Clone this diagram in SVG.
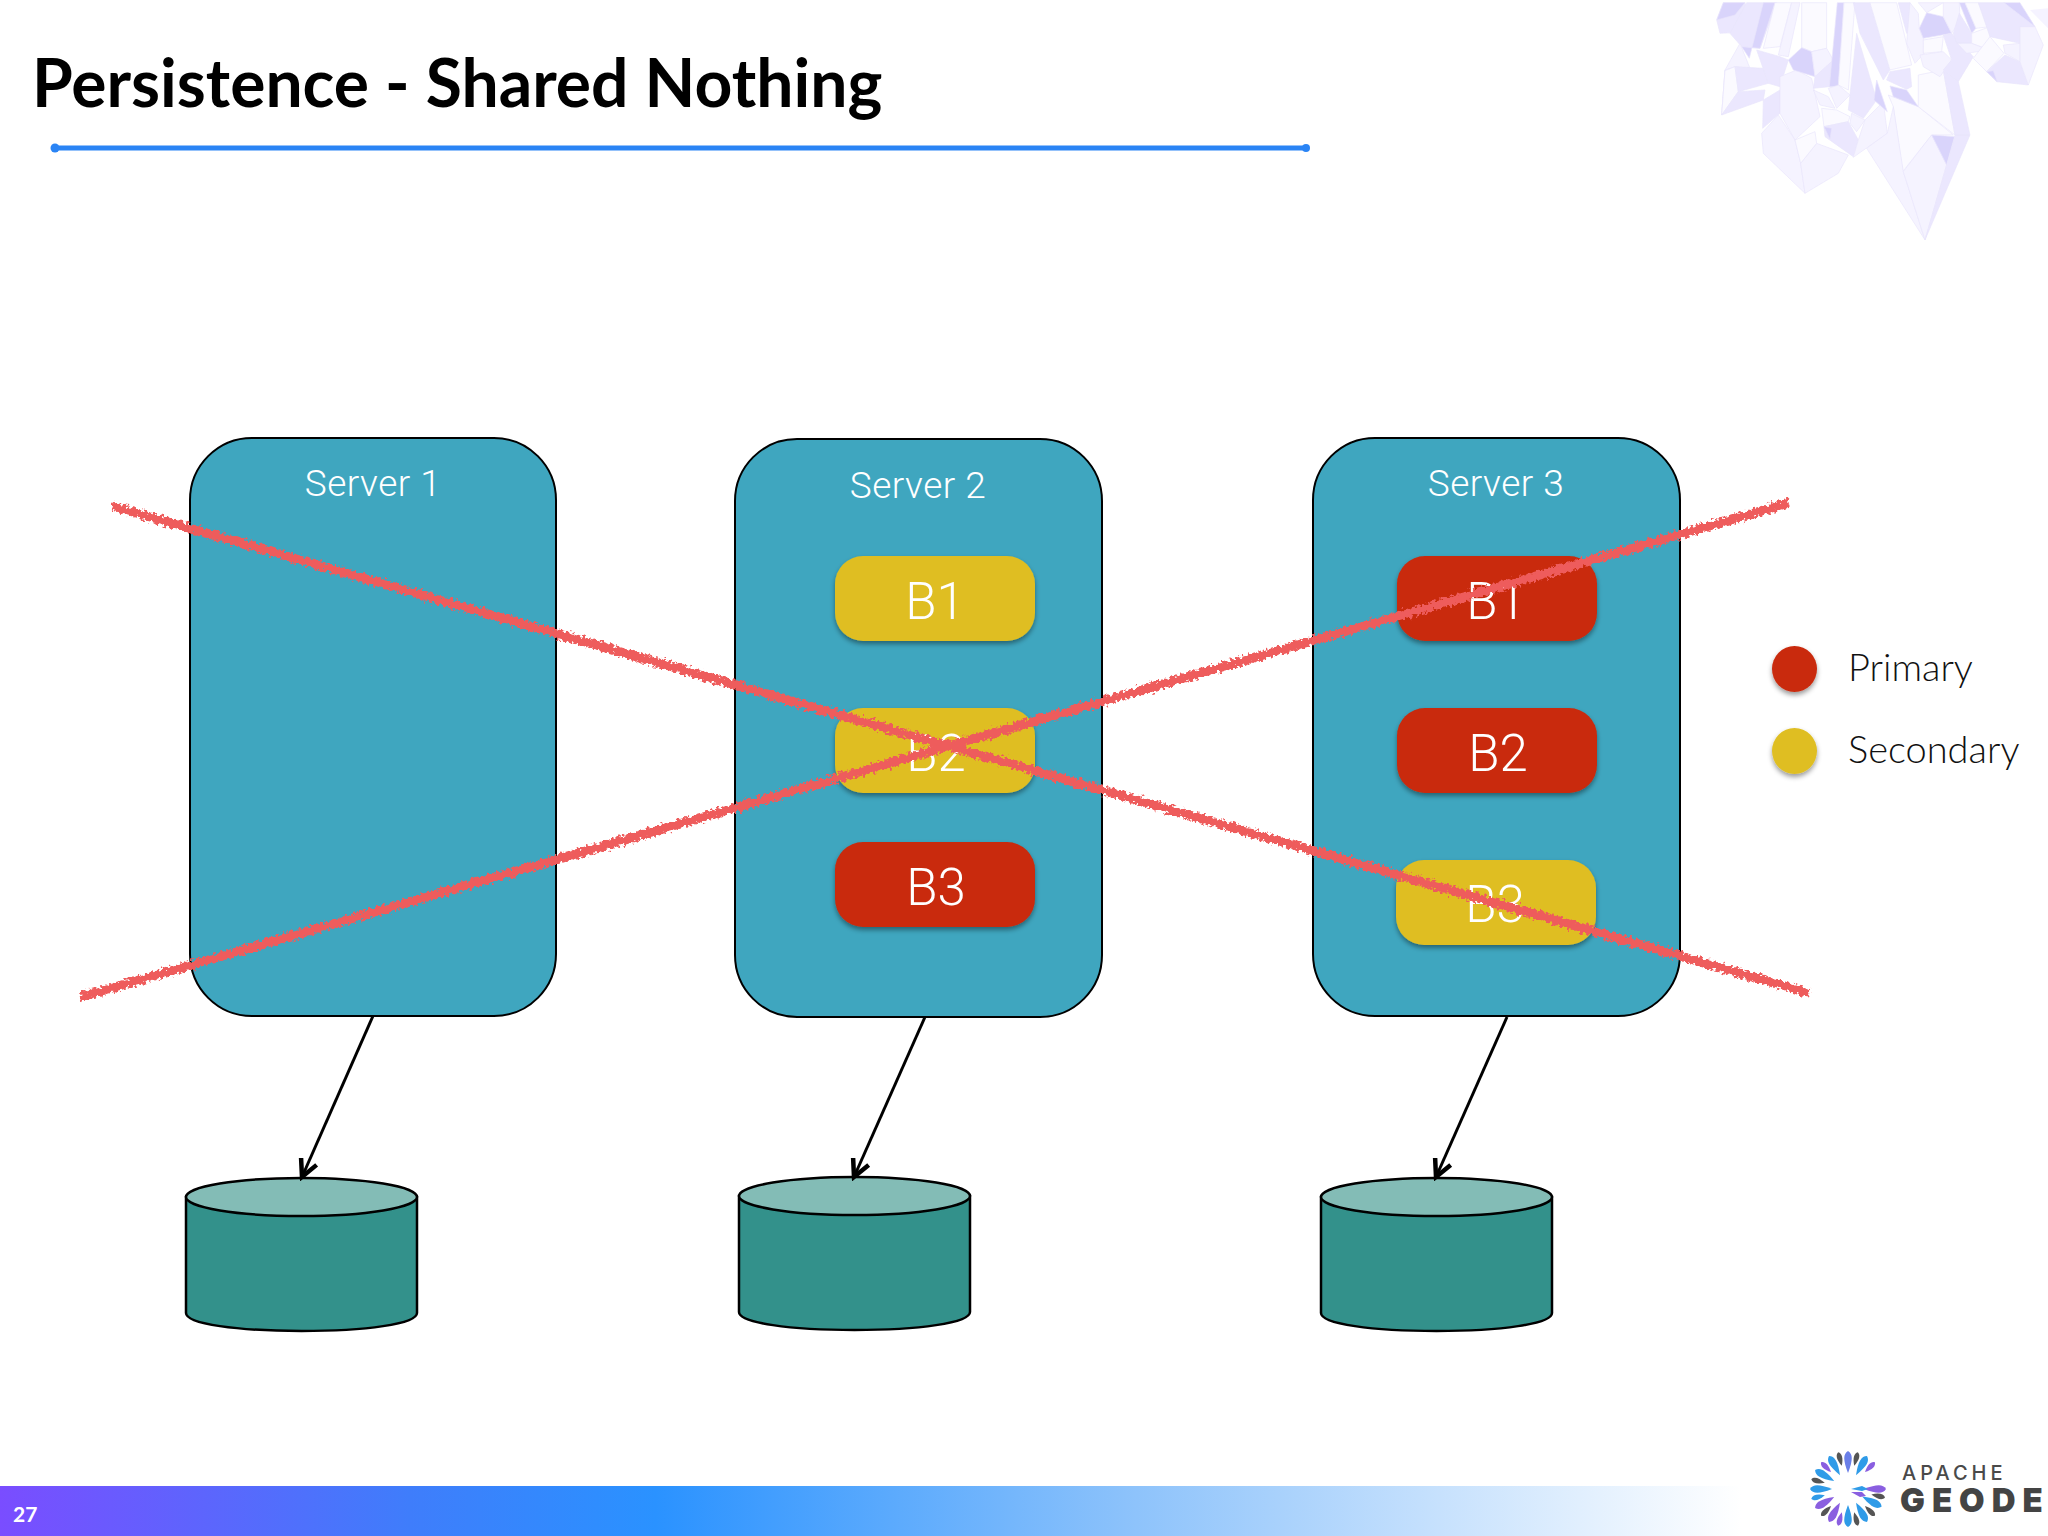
<svg xmlns="http://www.w3.org/2000/svg" width="2048" height="1536" viewBox="0 0 2048 1536">
<style>
.server{fill:#3fa6bf;stroke:#000;stroke-width:2}
.sl{font:300 37px Roboto,"Liberation Sans",sans-serif;letter-spacing:0.500px;fill:#fff;text-anchor:middle}
.bl{font:300 51px Roboto,"Liberation Sans",sans-serif;fill:#fff;text-anchor:middle}
.red{fill:#c9290a;filter:url(#sh)}
.yel{fill:#dfbe22;filter:url(#sh)}
.cb{fill:#33918b;stroke:#000;stroke-width:2.5}
.ct{fill:#83bcb6;stroke:#000;stroke-width:2.5}
.arrow{stroke:#000;stroke-width:3;fill:none;marker-end:url(#ah)}
.strike{stroke:#ee5c5c;stroke-width:9;fill:none;stroke-linecap:butt}
.leg{font:300 38px Lato,"Noto Sans",sans-serif;fill:#111}
.d{fill:#cfc8fb}.m{fill:#e6e1fe}.l{fill:#f3f0ff}.w{fill:#faf9ff}
#crystal polygon{stroke:#e2defb;stroke-width:2}
</style>
<defs>
<filter id="sh" x="-20%" y="-20%" width="140%" height="150%"><feDropShadow dx="0" dy="3" stdDeviation="2.500" flood-color="#000" flood-opacity="0.4"/></filter>
<filter id="rough" filterUnits="userSpaceOnUse" x="0" y="400" width="2048" height="700"><feTurbulence type="fractalNoise" baseFrequency="0.3" numOctaves="2" seed="4"/><feDisplacementMap in="SourceGraphic" scale="9" xChannelSelector="R" yChannelSelector="G"/></filter>
<filter id="blur"><feGaussianBlur stdDeviation="2.500"/></filter>
<marker id="ah" markerUnits="userSpaceOnUse" markerWidth="24" markerHeight="24" refX="20" refY="12" orient="auto"><path d="M3,3.500 L20,12 L3,20.500" fill="none" stroke="#000" stroke-width="4.500"/></marker>
<linearGradient id="bar" x1="0" x2="1" y1="0" y2="0"><stop offset="0" stop-color="#7a4dff"/><stop offset="0.2" stop-color="#3f7dfb"/><stop offset="0.32" stop-color="#2a92ff"/><stop offset="0.55" stop-color="#8cc2fb"/><stop offset="0.85" stop-color="#ffffff"/></linearGradient>
<path id="pl" d="M0,-38 C5,-35 5,-29 0,-16 C-5,-29 -5,-35 0,-38Z"/>
<path id="ps" d="M0,-38 C3.500,-36 3.500,-31 0,-24 C-3.500,-31 -3.500,-36 0,-38Z"/>
</defs>
<rect width="2048" height="1536" fill="#fff"/>

<g id="crystal" transform="translate(1680,0) scale(0.3333)" opacity="0.78">
<polygon class="m" points="130,8 195,8 215,95 120,100 110,60"/>
<polygon class="d" points="130,8 195,8 165,45 110,60"/>
<polygon class="m" points="200,8 290,8 240,145 185,140 150,100"/>
<polygon class="d" points="250,8 285,8 240,145 185,140 208,175"/>
<polygon class="w" points="285,8 335,8 300,140 250,145"/>
<polygon class="l" points="180,130 210,205 165,200 135,210 125,345 135,210"/>
<polygon class="w" points="135,212 165,200 175,275 125,345"/>
<polygon class="l" points="335,8 360,8 325,170 295,165"/>
<polygon class="m" points="165,200 250,205 265,250 175,275"/>
<polygon class="m" points="125,345 175,275 255,270 250,300"/>
<polygon class="m" points="230,150 300,170 325,180 300,260 265,250"/>
<polygon class="m" points="250,300 300,270 300,340 248,385"/>
<polygon class="l" points="300,230 350,210 395,235 420,350 345,420 300,340"/>
<polygon class="l" points="245,400 295,345 345,420 362,490 375,580 250,460"/>
<polygon class="l" points="362,490 410,430 505,465 475,520 375,580"/>
<polygon class="w" points="345,420 405,395 410,430 362,490"/>
<polygon class="w" points="365,8 440,8 440,145 395,155 365,143"/>
<polygon class="d" points="325,180 365,143 395,155 405,230 340,210"/>
<polygon class="l" points="395,155 440,145 460,180 405,230"/>
<polygon class="m" points="405,230 460,180 448,260 400,265"/>
<polygon class="d" points="472,8 492,8 475,260 448,260"/>
<polygon class="w" points="492,8 525,8 505,270 475,255"/>
<polygon class="l" points="445,265 475,255 510,285 470,325"/>
<polygon class="l" points="400,270 445,290 465,325 420,315"/>
<polygon class="w" points="425,325 470,330 510,350 505,365 432,380"/>
<polygon class="m" points="432,380 505,365 535,420 520,470 435,410"/>
<polygon class="d" points="432,380 455,385 450,418"/>
<polygon class="m" points="530,100 590,300 550,355 505,330"/>
<polygon class="l" points="515,340 555,360 530,395 510,370"/>
<polygon class="l" points="555,360 610,305 622,400 520,472 535,420"/>
<polygon class="m" points="520,8 570,8 630,210 610,240 540,100"/>
<polygon class="w" points="570,8 650,8 695,195 630,210"/>
<polygon class="m" points="620,240 630,215 690,205 695,260 680,268"/>
<polygon class="d" points="590,240 622,335 582,300"/>
<polygon class="w" points="625,285 715,320 820,405 755,405 668,515 640,320"/>
<polygon class="w" points="715,225 790,210 825,405 715,320"/>
<polygon class="d" points="630,258 680,270 715,320 640,290"/>
<polygon class="l" points="560,445 622,400 640,320 670,515 735,720"/>
<polygon class="l" points="670,515 755,405 800,495 735,720"/>
<polygon class="d" points="755,405 825,410 800,495"/>
<polygon class="m" points="800,495 825,405 870,405 735,720"/>
<polygon class="m" points="790,210 835,245 870,405 825,405"/>
<polygon class="m" points="655,8 690,8 700,95 680,100"/>
<polygon class="l" points="690,8 715,40 718,85 730,115 732,160 705,190 680,130"/>
<polygon class="l" points="715,8 790,8 740,38"/>
<polygon class="d" points="740,38 790,50 815,100 730,115 718,85"/>
<polygon class="l" points="790,8 838,8 840,60 815,100 790,50"/>
<polygon class="w" points="730,120 790,110 785,155 730,160"/>
<polygon class="l" points="720,165 790,155 815,180 780,230 730,200"/>
<polygon class="m" points="790,105 815,100 880,170 835,245 790,210 815,180"/>
<polygon class="d" points="838,8 855,8 888,85 875,100"/>
<polygon class="m" points="820,100 838,40 875,100 875,130 830,130"/>
<polygon class="w" points="855,8 895,8 930,80 888,85"/>
<polygon class="w" points="875,100 930,80 930,150 875,130"/>
<polygon class="l" points="832,130 875,130 925,150 860,160"/>
<polygon class="w" points="880,175 930,110 972,160 920,215"/>
<polygon class="m" points="920,215 975,165 1020,185 1045,255 950,245"/>
<polygon class="d" points="920,215 940,212 952,245"/>
<polygon class="l" points="970,135 1020,130 1020,185 975,160"/>
<polygon class="m" points="895,8 972,8 1065,80 1020,130 930,110"/>
<polygon class="d" points="972,8 1020,8 1065,80"/>
<polygon class="l" points="1020,80 1065,80 1090,135 1045,255 1020,185"/>
<polygon class="l" points="1050,30 1104,25 1104,85" style="stroke:none"/>
</g>

<text id="title" x="32" y="107" font-family="Lato,'Noto Sans',sans-serif" font-weight="700" font-size="66" fill="#000">Persistence - Shared Nothing</text>
<g id="underline">
<path d="M53,153 H1307" stroke="#c9c4ff" stroke-width="5" opacity="0.45" filter="url(#blur)"/>
<path d="M54,148 H1306" stroke="#2a84f5" stroke-width="5" stroke-linecap="round"/>
<circle cx="55" cy="148" r="4.500" fill="#2a84f5"/>
<circle cx="1306" cy="148" r="4" fill="#2a84f5"/>
</g>

<g id="server1"><rect class="server" x="190" y="438" width="366" height="578" rx="62"/><text class="sl" x="373" y="496">Server 1</text></g>
<g id="server2"><rect class="server" x="735" y="439" width="367" height="578" rx="62"/><text class="sl" x="918" y="498">Server 2</text></g>
<g id="server3"><rect class="server" x="1313" y="438" width="367" height="578" rx="62"/><text class="sl" x="1496" y="496">Server 3</text></g>

<g id="s2b1"><rect class="yel" x="835" y="556" width="200" height="85" rx="28"/><text class="bl" x="935" y="619">B1</text></g>
<g id="s2b2"><rect class="yel" x="835" y="708" width="200" height="85" rx="28"/><text class="bl" x="936" y="771">B2</text></g>
<g id="s2b3"><rect class="red" x="835" y="842" width="200" height="85" rx="28"/><text class="bl" x="936" y="905">B3</text></g>
<g id="s3b1"><rect class="red" x="1397" y="556" width="200" height="85" rx="28"/><text class="bl" x="1496" y="619">B1</text></g>
<g id="s3b2"><rect class="red" x="1397" y="708" width="200" height="85" rx="28"/><text class="bl" x="1498" y="771">B2</text></g>
<g id="s3b3"><rect class="yel" x="1396" y="860" width="200" height="85" rx="28"/><text class="bl" x="1495" y="922">B3</text></g>

<g id="disk1"><path class="cb" d="M186,1197 V1313 C186,1324 238,1331 301.500,1331 C365,1331 417,1324 417,1313 V1197Z"/><ellipse class="ct" cx="301.500" cy="1197" rx="115.500" ry="19"/></g>
<g id="disk2"><path class="cb" d="M739,1196 V1312 C739,1323 791,1330 854.500,1330 C918,1330 970,1323 970,1312 V1196Z"/><ellipse class="ct" cx="854.500" cy="1196" rx="115.500" ry="19"/></g>
<g id="disk3"><path class="cb" d="M1321,1197 V1313 C1321,1324 1373,1331 1436.500,1331 C1500,1331 1552,1324 1552,1313 V1197Z"/><ellipse class="ct" cx="1436.500" cy="1197" rx="115.500" ry="19"/></g>

<g id="connectors">
<path class="arrow" d="M373,1016 L302,1177"/>
<path class="arrow" d="M925,1017 L854,1177"/>
<path class="arrow" d="M1507,1017 L1436,1177"/>
</g>

<g id="strikes" filter="url(#rough)">
<path class="strike" d="M112,506 L1809,993"/>
<path class="strike" d="M81,997 L1789,503"/>
</g>

<g id="legend">
<ellipse class="red" cx="1794.500" cy="669" rx="22.500" ry="23"/>
<text class="leg" x="1848" y="681">Primary</text>
<ellipse class="yel" cx="1794.500" cy="751" rx="22.500" ry="23"/>
<text class="leg" x="1848" y="763">Secondary</text>
</g>

<rect id="footer" x="0" y="1486" width="2048" height="50" fill="url(#bar)"/>
<text id="page" x="13" y="1522" font-family="Lato,'Liberation Sans',sans-serif" font-weight="700" font-size="21" fill="#fff">27</text>

<g id="logo" transform="translate(1848,1489)">
<use href="#pl" fill="#6a7fe8"/>
<use href="#ps" fill="#555" transform="rotate(15)"/>
<use href="#pl" fill="#2f9be8" transform="rotate(30)"/>
<use href="#ps" fill="#8a5fe0" transform="rotate(45)"/>
<use href="#pl" fill="#8a5fe0" transform="rotate(90)"/>
<use href="#ps" fill="#555" transform="rotate(103)"/>
<use href="#pl" fill="#2f9be8" transform="rotate(118)"/>
<use href="#ps" fill="#555" transform="rotate(135)"/>
<use href="#pl" fill="#2f9be8" transform="rotate(150)"/>
<use href="#ps" fill="#555" transform="rotate(165)"/>
<use href="#pl" fill="#2f9be8" transform="rotate(180)"/>
<use href="#ps" fill="#8a5fe0" transform="rotate(195)"/>
<use href="#pl" fill="#8a5fe0" transform="rotate(210)"/>
<use href="#ps" fill="#555" transform="rotate(225)"/>
<use href="#pl" fill="#8a5fe0" transform="rotate(240)"/>
<use href="#ps" fill="#2f9be8" transform="rotate(255)"/>
<use href="#pl" fill="#2f9be8" transform="rotate(270)"/>
<use href="#ps" fill="#555" transform="rotate(285)"/>
<use href="#pl" fill="#2f9be8" transform="rotate(300)"/>
<use href="#ps" fill="#8a5fe0" transform="rotate(315)"/>
<use href="#pl" fill="#2f9be8" transform="rotate(330)"/>
<use href="#ps" fill="#555" transform="rotate(345)"/>
<path d="M3,0 L14,-3 L20,0 L14,2Z" fill="#2f9be8"/>
<path d="M3,3 L14,3 L18,7 L12,8Z" fill="#8a5fe0"/>
<text x="54" y="-9" font-family="Inter,'Liberation Sans',sans-serif" font-weight="500" font-size="20" letter-spacing="4" fill="#4a4a4a">APACHE</text>
<text x="52" y="23" font-family="Inter,'Liberation Sans',sans-serif" font-weight="900" font-size="33" letter-spacing="7" fill="#444">GEODE</text>
</g>
</svg>
